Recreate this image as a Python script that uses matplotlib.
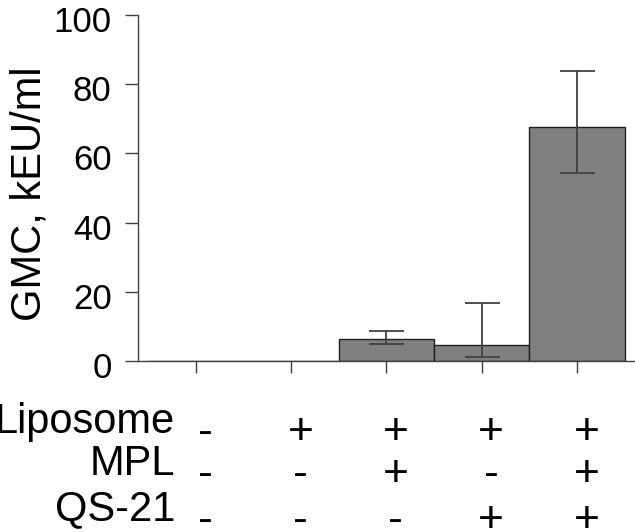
import numpy as np
import matplotlib
matplotlib.use('Agg')
import matplotlib.pyplot as plt
import matplotlib.transforms as mtransforms

# Data
groups = [0, 1, 2, 3, 4]
gmc = [0.0, 0.0, 6.3, 4.5, 67.6]
err_low = [0.0, 0.0, 1.4, 3.3, 13.4]
err_high = [0.0, 0.0, 2.3, 12.3, 16.3]

row_labels = ['Liposome', 'MPL', 'QS-21']
signs = [
    ['-', '+', '+', '+', '+'],
    ['-', '-', '+', '-', '+'],
    ['-', '-', '-', '+', '+'],
]
y_ticks = [0, 20, 40, 60, 80, 100]

plt.rcParams['font.family'] = ['Liberation Sans', 'DejaVu Sans']
AX_GRAY = '#404040'

W, H = 635, 532
fig = plt.figure(figsize=(W / 100, H / 100), dpi=100)
ax = fig.add_axes([137.7 / W, (H - 361) / H, 1 - 137.7 / W, (361 - 15) / H])

ax.bar(groups, gmc, width=1.0, color='#808080', edgecolor='#202020', linewidth=1.0, zorder=1)

# error bars only where there is a value
idx = [i for i in groups if gmc[i] > 0]
ax.errorbar([groups[i] for i in idx], [gmc[i] for i in idx],
            yerr=[[err_low[i] for i in idx], [err_high[i] for i in idx]],
            fmt='none', ecolor=AX_GRAY, elinewidth=1.3, capsize=12.6, capthick=1.3, zorder=3)

ax.set_xlim(-0.608, 4.61)
ax.set_ylim(0, 100)
ax.set_yticks(y_ticks)
ax.set_xticks(groups)
ax.set_xticklabels([])

for s in ['top', 'right']:
    ax.spines[s].set_visible(False)
for s in ['left', 'bottom']:
    ax.spines[s].set_color(AX_GRAY)
    ax.spines[s].set_linewidth(1.0)

ax.tick_params(axis='y', direction='out', length=9.5, width=1.0, color=AX_GRAY,
               labelsize=25, pad=9.3)
ax.tick_params(axis='x', direction='out', length=8.6, width=1.0, color=AX_GRAY)

# shift y tick labels a bit down as in the reference
shift = mtransforms.ScaledTranslation(0, -4 / 100, fig.dpi_scale_trans)
for lab in ax.get_yticklabels():
    lab.set_transform(lab.get_transform() + shift)

fig.text(41 / W, 1 - 194 / H, 'GMC, kEU/ml', rotation=90, fontsize=30,
         ha='center', va='baseline', rotation_mode='anchor')

# table of components under the axis
label_base = [433, 475, 520]
sign_base = [444, 486, 532]
trans = mtransforms.blended_transform_factory(ax.transData, fig.transFigure)
for r, name in enumerate(row_labels):
    fig.text(175 / W, 1 - label_base[r] / H, name, fontsize=30, ha='right', va='baseline')
    for c in groups:
        ax.text(c + 0.1, 1 - sign_base[r] / H, signs[r][c], fontsize=32,
                ha='center', va='baseline', transform=trans, clip_on=False)

fig.savefig('out.png', dpi=100)
